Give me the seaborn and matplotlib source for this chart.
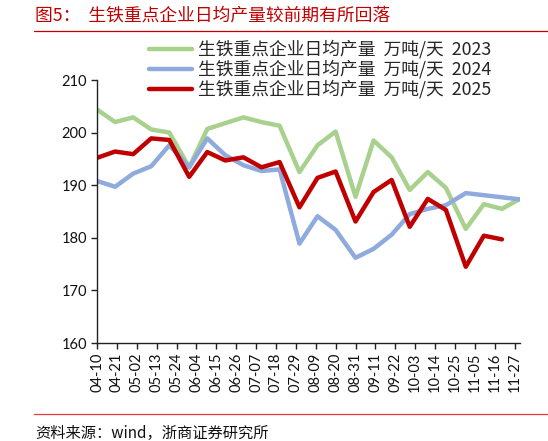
import matplotlib
matplotlib.use("Agg")
import matplotlib.pyplot as plt
from matplotlib.lines import Line2D
import seaborn as sns
import pandas as pd

# ---- data ----
dates = ['04-10', '04-20', '04-30', '05-10', '05-20', '05-31', '06-10', '06-20',
         '06-30', '07-10', '07-20', '07-31', '08-10', '08-20', '08-31', '09-10',
         '09-20', '09-30', '10-10', '10-20', '10-31', '11-10', '11-20', '11-30']
y2023 = [204.4, 202.0, 202.9, 200.6, 200.0, 193.4, 200.7, 201.8, 202.9, 202.0,
         201.3, 192.5, 197.6, 200.2, 187.8, 198.5, 195.3, 189.1, 192.5, 189.5,
         181.7, 186.4, 185.5, 187.4]
y2024 = [190.8, 189.7, 192.2, 193.6, 197.6, 193.4, 198.9, 195.7, 193.8, 192.7,
         193.0, 178.9, 184.1, 181.5, 176.2, 177.9, 180.6, 184.5, 185.5, 186.2,
         188.5, 188.1, 187.7, 187.3]
y2025 = [195.2, 196.4, 195.9, 198.9, 198.6, 191.6, 196.3, 194.7, 195.3, 193.4,
         194.4, 185.8, 191.4, 192.6, 183.1, 188.7, 191.0, 182.1, 187.4, 185.3,
         174.5, 180.4, 179.7]
series_names = ['生铁重点企业日均产量  万吨/天  2023',
                '生铁重点企业日均产量  万吨/天  2024',
                '生铁重点企业日均产量  万吨/天  2025']
colors = ['#A9D18E', '#8FAADC', '#C00000']
tick_labels = ['04-10', '04-21', '05-02', '05-13', '05-24', '06-04', '06-15',
               '06-26', '07-07', '07-18', '07-29', '08-09', '08-20', '08-31',
               '09-11', '09-22', '10-03', '10-14', '10-25', '11-05', '11-16', '11-27']
y_ticks = [160, 170, 180, 190, 200, 210]
title = '图5：  生铁重点企业日均产量较前期有所回落'
source = '资料来源：wind，浙商证券研究所'

# ---- build frame ----
frames = []
for name, vals in zip(series_names, [y2023, y2024, y2025]):
    frames.append(pd.DataFrame({
        'date': pd.to_datetime(['2025-' + d for d in dates[:len(vals)]]),
        'value': vals,
        'series': name,
    }))
df = pd.concat(frames, ignore_index=True)

sns.set_theme(style='white')
plt.rcParams['font.family'] = ['Noto Sans CJK SC', 'DejaVu Sans']

fig = plt.figure(figsize=(5.48, 4.41), dpi=100)
ax = fig.add_axes([97 / 548, 1 - 343 / 441, (520 - 97) / 548, (343 - 80) / 441])

sns.lineplot(data=df, x='date', y='value', hue='series',
             palette=dict(zip(series_names, colors)), linewidth=3.2,
             legend=False, ax=ax, solid_joinstyle='round', solid_capstyle='round')

ax.set_xlim(pd.Timestamp('2025-04-10'), pd.Timestamp('2025-11-30'))
ax.set_ylim(160, 210)
ax.set_yticks(y_ticks)
ax.set_yticklabels([str(v) for v in y_ticks], fontfamily='Lato', fontsize=10.5)
ax.set_xticks(pd.to_datetime(['2025-' + t for t in tick_labels]))
ax.set_xticklabels(tick_labels, rotation=90, fontfamily='Lato', fontsize=10.5)
ax.set_xlabel('')
ax.set_ylabel('')
for s in ['top', 'right']:
    ax.spines[s].set_visible(False)
for s in ['left', 'bottom']:
    ax.spines[s].set_color('#222222')
    ax.spines[s].set_linewidth(1.0)
ax.tick_params(axis='both', which='major', direction='out', length=4, width=1.0,
               color='#222222', labelcolor='#111111', pad=3)
ax.tick_params(axis='x', bottom=True)
ax.tick_params(axis='y', left=True)
ax.grid(False)

handles = [Line2D([0], [0], color=c, lw=3.2, solid_capstyle='round') for c in colors]
fig.legend(handles, series_names, loc='upper left',
           bbox_to_anchor=(149 / 548, 1 - 40 / 441), bbox_transform=fig.transFigure,
           frameon=False, handlelength=2.4, handletextpad=0.35,
           labelspacing=0.07, borderaxespad=0, borderpad=0,
           prop={'family': ['Noto Sans CJK SC', 'DejaVu Sans'], 'size': 12.8, 'weight': 'light'})

fig.text(35 / 548, 1 - 16 / 441, title, color='#C00000', fontsize=12.8,
         ha='left', va='center', fontweight='light')
fig.add_artist(Line2D([34 / 548, 1.0], [1 - 31 / 441, 1 - 31 / 441],
                      transform=fig.transFigure, color='#C00000', lw=0.9))
fig.add_artist(Line2D([34 / 548, 1.0], [1 - 414 / 441, 1 - 414 / 441],
                      transform=fig.transFigure, color='#E8383D', lw=0.9))
fig.text(35 / 548, 1 - 433 / 441, source, color='#111111', fontsize=11,
         ha='left', va='center', fontweight='light')

fig.savefig('out.png', dpi=100)
